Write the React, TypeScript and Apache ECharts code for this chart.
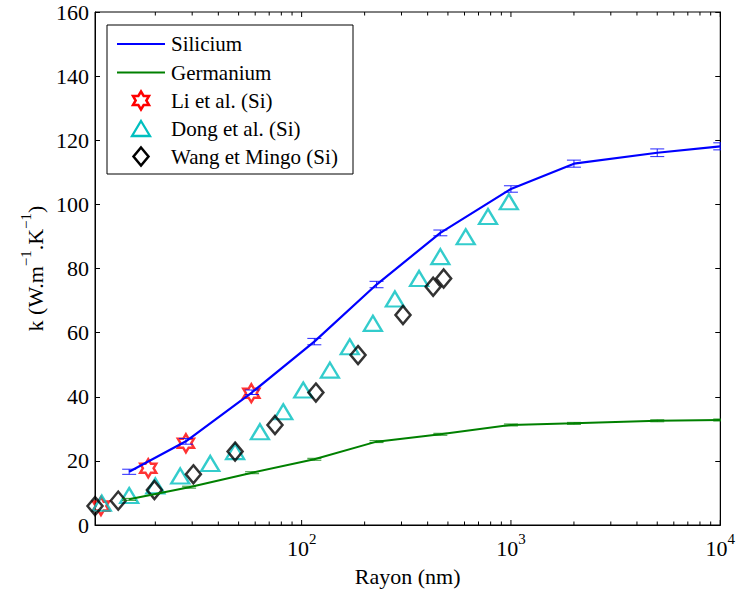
import React, { useEffect, useRef } from 'react';
import * as echarts from 'echarts';

// ---- data ----
const siRadius = [15, 28, 58, 115, 228, 460, 1000, 2000, 5000, 10000];
const siK = [16.6, 26.1, 41.4, 57.2, 75.0, 91.1, 104.8, 112.7, 116.1, 118.1];
const siErr = [0.8, 0.9, 0.7, 1.0, 1.0, 0.9, 1.0, 1.1, 1.2, 1.1];

const geRadius = [15, 29, 58, 115, 228, 460, 1000, 2000, 5000, 10000];
const geK = [8.0, 11.8, 16.3, 20.5, 26.0, 28.3, 31.2, 31.7, 32.5, 32.75];
const geErr = [0.3, 0.3, 0.3, 0.3, 0.3, 0.3, 0.3, 0.3, 0.3, 0.3];

const liRadius = [11, 18.5, 28, 57.5];
const liK = [5.9, 17.7, 25.5, 41.1];

const dongRadius = [11.1, 15, 20, 26.3, 36.6, 48.1, 63.2, 81.7, 101.8, 136.5, 169.8, 219, 279, 364, 460, 608, 777, 977];
const dongK = [6.8, 9.2, 12.2, 15.3, 19.2, 22.9, 29.1, 35.3, 42.1, 48.3, 55.6, 62.9, 70.5, 76.9, 83.7, 89.9, 96.2, 100.8];

const wangRadius = [10.3, 13.3, 19.8, 30.4, 48.1, 74.6, 117, 186, 305, 425, 477];
const wangK = [5.9, 7.6, 10.9, 15.8, 22.9, 31.2, 41.3, 53.0, 65.5, 74.3, 76.9];

const xMin = 10.3;
const xMax = 10000;
const xMajorTicks = [100, 1000, 10000];
const xMinorTicks = [20, 30, 40, 50, 60, 70, 80, 90, 200, 300, 400, 500, 600, 700, 800, 900, 2000, 3000, 4000, 5000, 6000, 7000, 8000, 9000];
const yMin = 0;
const yMax = 160;
const yStep = 20;

const seriesNames = ['Silicium', 'Germanium', 'Li et al. (Si)', 'Dong et al. (Si)', 'Wang et Mingo (Si)'];
const xTitle = 'Rayon (nm)';

// ---- styles ----
const FONT = 'Liberation Serif';
const BLUE = '#0000ff';
const GREEN = '#008000';
const RED = '#ff0000';
const CYAN = '#00bfbf';
const BLACK = '#000000';

function hexagramPath(): string {
  const R = 10;
  const r = R / Math.sqrt(3);
  const pts: string[] = [];
  for (let k = 0; k < 12; k++) {
    const a = (-90 + k * 30) * Math.PI / 180;
    const rad = k % 2 === 0 ? R : r;
    pts.push(`${(10 + rad * Math.cos(a)).toFixed(3)} ${(10 + rad * Math.sin(a)).toFixed(3)}`);
  }
  return 'path://M' + pts.join(' L') + ' Z';
}
const HEX = hexagramPath();

function hexagramPoints(cx: number, cy: number, w: number, h: number): number[][] {
  const pts: number[][] = [];
  const R = 10;
  const r = R / Math.sqrt(3);
  const bw = 2 * R * Math.cos(Math.PI / 6);
  for (let k = 0; k < 12; k++) {
    const a = (-90 + k * 30) * Math.PI / 180;
    const rad = k % 2 === 0 ? R : r;
    pts.push([cx + (rad * Math.cos(a)) * (w / bw), cy + (rad * Math.sin(a)) * (h / (2 * R))]);
  }
  return pts;
}

function zip(xs: number[], ys: number[]) {
  return xs.map((x, i) => [x, ys[i]]);
}

function errorSeries(xs: number[], ys: number[], errs: number[], color: string) {
  return {
    type: 'custom',
    clip: true,
    silent: true,
    z: 4,
    encode: { x: 0, y: [1, 2] },
    data: xs.map((x, i) => [x, ys[i] - errs[i], ys[i] + errs[i]]),
    renderItem: (params: any, api: any) => {
      const x = api.value(0);
      const p1 = api.coord([x, api.value(1)]);
      const p2 = api.coord([x, api.value(2)]);
      const w = 7;
      const style = { stroke: color, lineWidth: 1, opacity: 0.85 };
      return {
        type: 'group',
        children: [
          { type: 'line', shape: { x1: p1[0], y1: p1[1], x2: p2[0], y2: p2[1] }, style },
          { type: 'line', shape: { x1: p1[0] - w, y1: p1[1], x2: p1[0] + w, y2: p1[1] }, style },
          { type: 'line', shape: { x1: p2[0] - w, y1: p2[1], x2: p2[0] + w, y2: p2[1] }, style },
        ],
      };
    },
  };
}

const supLabel = (exp: string) => `{b|10}{s|${exp}}`;

export default function App() {
  const ref = useRef<HTMLDivElement>(null);
  useEffect(() => {
    if (!ref.current) return;
    const chart = echarts.init(ref.current, undefined, { renderer: 'svg' });

    const gridLeft = 95, gridTop = 12, gridRight = 17, gridBottom = 68;
    const plotH = 593 - gridTop - gridBottom;

    const tickData = [
      ...xMinorTicks.map((v) => [v, 0, 0]),
      ...xMajorTicks.map((v) => [v, 0, 1]),
    ];

    // legend geometry
    const lgX = 107, lgY = 25, lgW = 246, lgH = 149;
    const rowY = [44, 72.5, 100.5, 128.5, 156.5];
    const textX = 171;
    const mk = 141;

    const legendText = seriesNames.map((n, i) => ({
      type: 'text',
      x: textX,
      y: rowY[i],
      style: { text: n, fontFamily: FONT, fontSize: 21, fill: BLACK, align: 'left', verticalAlign: 'middle' },
    }));

    const option: any = {
      animation: false,
      backgroundColor: '#ffffff',
      textStyle: { fontFamily: FONT },
      grid: {
        left: gridLeft, top: gridTop, right: gridRight, bottom: gridBottom,
        show: true, borderColor: BLACK, borderWidth: 1, backgroundColor: 'transparent',
      },
      xAxis: {
        type: 'log',
        min: xMin,
        max: xMax,
        logBase: 10,
        name: xTitle,
        nameLocation: 'middle',
        nameGap: 40,
        nameTextStyle: { fontFamily: FONT, fontSize: 22, color: BLACK },
        axisLine: { show: true, lineStyle: { color: BLACK, width: 1 } },
        axisTick: { show: false },
        splitLine: { show: false },
        axisLabel: {
          margin: 6,
          color: BLACK,
          fontFamily: FONT,
          formatter: (v: number) => {
            const e = Math.round(Math.log10(v));
            if (Math.abs(Math.log10(v) - e) < 1e-6) return supLabel(String(e));
            return '';
          },
          rich: {
            b: { fontFamily: FONT, fontSize: 22, color: BLACK, padding: [6, 0, 0, 0] },
            s: { fontFamily: FONT, fontSize: 15, color: BLACK, verticalAlign: 'top' },
          },
        },
      },
      yAxis: [
        {
          type: 'value',
          min: yMin, max: yMax, interval: yStep,
          axisLine: { show: true, lineStyle: { color: BLACK, width: 1 } },
          axisTick: { show: true, inside: true, length: 5, lineStyle: { color: BLACK } },
          splitLine: { show: false },
          axisLabel: { fontFamily: FONT, fontSize: 22, color: BLACK, margin: 6 },
        },
        {
          type: 'value',
          position: 'right',
          min: yMin, max: yMax, interval: yStep,
          axisLine: { show: true, lineStyle: { color: BLACK, width: 1 } },
          axisTick: { show: true, inside: true, length: 5, lineStyle: { color: BLACK } },
          splitLine: { show: false },
          axisLabel: { show: false },
        },
      ],
      series: [
        {
          name: seriesNames[2], type: 'scatter', clip: false, z: 2,
          symbol: HEX, symbolSize: [16, 18],
          itemStyle: { color: 'rgba(0,0,0,0)', borderColor: RED, borderWidth: 2.5 },
          data: zip(liRadius, liK),
        },
        {
          name: seriesNames[3], type: 'scatter', clip: false, z: 2,
          symbol: 'triangle', symbolSize: [18, 15],
          itemStyle: { color: 'rgba(0,0,0,0)', borderColor: CYAN, borderWidth: 2.3 },
          data: zip(dongRadius, dongK),
        },
        {
          name: seriesNames[4], type: 'scatter', clip: false, z: 2,
          symbol: 'diamond', symbolSize: [15, 18],
          itemStyle: { color: 'rgba(0,0,0,0)', borderColor: BLACK, borderWidth: 2.5 },
          data: zip(wangRadius, wangK),
        },
        {
          name: seriesNames[1], type: 'line', z: 3, showSymbol: false, symbol: 'none',
          lineStyle: { color: GREEN, width: 2 },
          data: zip(geRadius, geK),
        },
        {
          name: seriesNames[0], type: 'line', z: 3, showSymbol: false, symbol: 'none',
          lineStyle: { color: BLUE, width: 2.2 },
          data: zip(siRadius, siK),
        },
        errorSeries(geRadius, geK, geErr, GREEN),
        errorSeries(siRadius, siK, siErr, BLUE),
        {
          type: 'custom',
          silent: true,
          z: 5,
          encode: { x: 0, y: 1 },
          data: tickData,
          renderItem: (params: any, api: any) => {
            const x = api.coord([api.value(0), 0])[0];
            const cs = params.coordSys;
            const len = api.value(2) ? 5 : 3.5;
            const style = { stroke: BLACK, lineWidth: 1 };
            const yb = cs.y + cs.height;
            return {
              type: 'group',
              children: [
                { type: 'line', shape: { x1: x, y1: yb, x2: x, y2: yb - len }, style },
                { type: 'line', shape: { x1: x, y1: cs.y, x2: x, y2: cs.y + len }, style },
              ],
            };
          },
        },
      ],
      graphic: [
        {
          type: 'text',
          x: 32,
          y: gridTop + plotH / 2,
          rotation: Math.PI / 2,
          style: {
            text: '{b|k (W.m}{s|\u22121}{b|.K}{s|\u22121}{b|)}',
            fontFamily: FONT,
            fontSize: 22,
            fill: BLACK,
            align: 'center',
            verticalAlign: 'middle',
            rich: {
              b: { fontFamily: FONT, fontSize: 22, fill: BLACK, padding: [6, 0, 0, 0] },
              s: { fontFamily: FONT, fontSize: 15, fill: BLACK, verticalAlign: 'top' },
            },
          },
        },
        {
          type: 'group',
          z: 100,
          children: [
            {
              type: 'rect',
              shape: { x: lgX, y: lgY, width: lgW, height: lgH },
              style: { fill: '#ffffff', stroke: BLACK, lineWidth: 1 },
            },
            { type: 'line', shape: { x1: 117, y1: rowY[0], x2: 165, y2: rowY[0] }, style: { stroke: BLUE, lineWidth: 2 } },
            { type: 'line', shape: { x1: 117, y1: rowY[1], x2: 165, y2: rowY[1] }, style: { stroke: GREEN, lineWidth: 2 } },
            {
              type: 'polygon',
              shape: { points: hexagramPoints(mk, rowY[2], 16, 18) },
              style: { fill: 'none', stroke: RED, lineWidth: 2.5 },
            },
            {
              type: 'polygon',
              shape: { points: [[mk, rowY[3] - 7.5], [mk + 9, rowY[3] + 7.5], [mk - 9, rowY[3] + 7.5]] },
              style: { fill: 'none', stroke: CYAN, lineWidth: 2.3 },
            },
            {
              type: 'polygon',
              shape: { points: [[mk, rowY[4] - 9], [mk + 7.5, rowY[4]], [mk, rowY[4] + 9], [mk - 7.5, rowY[4]]] },
              style: { fill: 'none', stroke: BLACK, lineWidth: 2.5 },
            },
            ...legendText,
          ],
        },
      ],
    };

    chart.setOption(option);
    return () => chart.dispose();
  }, []);

  return (
    <div
      ref={ref}
      style={{ position: 'absolute', left: 0, top: 0, width: 738, height: 593, background: '#fff' }}
    />
  );
}
